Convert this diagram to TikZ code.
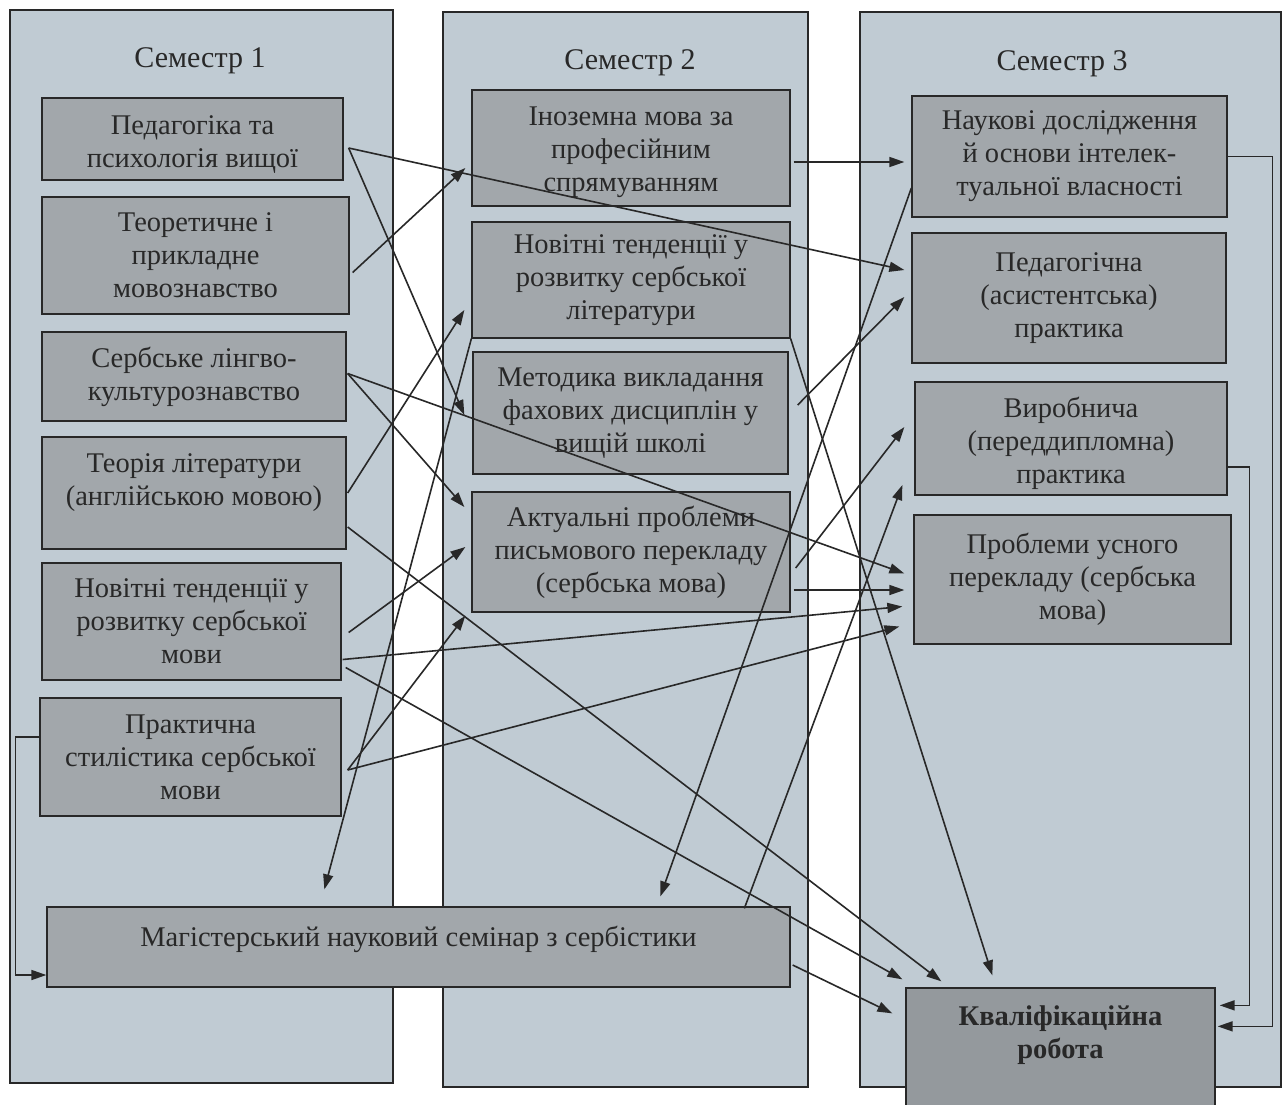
\documentclass[tikz,border=0pt]{standalone}
\usepackage{fontspec}
\setmainfont{Liberation Serif}
\usetikzlibrary{arrows.meta,calc}
\definecolor{panel}{RGB}{192,203,211}
\definecolor{boxf}{RGB}{162,167,171}
\definecolor{kf}{RGB}{148,153,157}
\definecolor{ink}{RGB}{40,40,40}
\begin{document}
\begin{tikzpicture}[x=1pt,y=-1pt,
  panelbox/.style={draw=ink,line width=1.3pt,fill=panel,inner sep=0pt},
  sz/.style 2 args={minimum width=#1,minimum height=#2},
  txt/.style={align=center,inner sep=0pt,text=ink,font=\fontsize{28.5}{33}\selectfont},
  course/.style={txt,draw=ink,line width=1.3pt,fill=boxf},
  title/.style={txt,font=\fontsize{30}{33}\selectfont},
  conn/.style={draw=ink,line width=1.6pt,-{Triangle[length=15pt,width=10pt]}},
  plain/.style={draw=ink,line width=1.6pt}
]
\fill[white] (0,0) rectangle (1284,1104);
\useasboundingbox (0,0) rectangle (1284,1104);

% semester panels
\node[panelbox,sz={383}{1073}] (col1) at (201.5,546.5) {};
\node[panelbox,sz={365}{1075}] (col2) at (625.5,549.5) {};
\node[panelbox,sz={421}{1075}] (col3) at (1070.5,549.5) {};
\node[title] (t1) at (200,61) {Семестр 1};
\node[title] (t2) at (630,63) {Семестр 2};
\node[title] (t3) at (1062,64) {Семестр 3};

% semester 1
\node[course,sz={301}{82}] (B1) at (192.5,139) {};
\node[txt] (B1t) at (192.5,145) {Педагогіка та\\психологія вищої};
\node[course,sz={307}{117}] (B2) at (195.5,255.5) {Теоретичне і\\прикладне\\мовознавство};
\node[course,sz={304}{89}] (B3) at (194,376.5) {Сербське лінгво-\\культурознавство};
\node[course,sz={304}{112}] (B4) at (194,493) {};
\node[txt] (B4t) at (194,483) {Теорія літератури\\(англійською мовою)};
\node[course,sz={299}{117}] (B5) at (191.5,621.5) {Новітні тенденції у\\розвитку сербської\\мови};
\node[course,sz={301}{118}] (B6) at (190.5,757) {Практична\\стилістика сербської\\мови};

% seminar
\node[course,sz={743}{80}] (S) at (418.5,947) {};
\node[txt] (St) at (418.5,939) {Магістерський науковий семінар з сербістики};

% semester 2
\node[course,sz={318}{116}] (C1) at (631,148) {};
\node[txt] (C1t) at (631,152) {Іноземна мова за\\професійним\\спрямуванням};
\node[course,sz={318}{116}] (C2) at (631,280) {Новітні тенденції у\\розвитку сербської\\літератури};
\node[course,sz={315}{122}] (C3) at (630.5,413) {Методика викладання\\фахових дисциплін у\\вищій школі};
\node[course,sz={318}{120}] (C4) at (631,552) {Актуальні проблеми\\письмового перекладу\\(сербська мова)};

% semester 3
\node[course,sz={315}{121}] (D1) at (1069.5,156.5) {Наукові дослідження\\й основи інтелек-\\туальної власності};
\node[course,sz={314}{130}] (D2) at (1069,298) {Педагогічна\\(асистентська)\\практика};
\node[course,sz={312}{113}] (D3) at (1071,438.5) {};
\node[txt] (D3t) at (1071,443) {Виробнича\\(переддипломна)\\практика};
\node[course,sz={317}{129}] (D4) at (1072.5,579.5) {Проблеми усного\\перекладу (сербська\\мова)};
\node[course,fill=kf,sz={309}{120}] (K) at (1060.5,1048) {};
\node[txt,font=\bfseries\fontsize{28.5}{33}\selectfont] (Kt) at (1060.5,1035) {Кваліфікаційна\\робота};

% connectors
\draw[conn] ($(B1.east)+(5,9)$) -- ($(D2.west)+(-7,-28)$);
\draw[conn] ($(B1.east)+(5,9)$) -- ($(C3.west)+(-8,2)$);
\draw[conn] ($(B2.east)+(3,17)$) -- ($(C1.west)+(-6,20)$);
\draw[conn] ($(B3.east)+(1,-3)$) -- ($(C4.west)+(-7,-45)$);
\draw[conn] ($(B3.east)+(1,-3)$) -- ($(D4.west)+(-9,-6)$);
\draw[conn] ($(B4.east)+(1,0)$) -- ($(C2.west)+(-7,30)$);
\draw[conn] ($(B4.east)+(1,34)$) -- ($(K.north west)+(36,-6)$);
\draw[conn] ($(B5.east)+(7,11)$) -- ($(C4.west)+(-6,-5)$);
\draw[conn] ($(B5.east)+(1,38)$) -- ($(D4.west)+(-11,27)$);
\draw[conn] ($(B5.east)+(4,46)$) -- ($(K.north west)+(-3,-8)$);
\draw[conn] ($(B6.east)+(6,13)$) -- ($(C4.south west)+(-6,3)$);
\draw[conn] ($(B6.east)+(6,13)$) -- ($(D4.west)+(-14,47)$);
\draw[conn] ($(B6.west)+(0,-20)$) -- ++(-24,0) |- ($(S.west)+(0,28)$);
\draw[conn] (C2.south west) -- ($(S.north west)+(278,-17)$);
\draw[conn] ($(C1.east)+(3,14)$) -- ($(D1.west)+(-7,5.5)$);
\draw[conn] ($(C3.east)+(9,-8)$) -- ($(D2.west)+(-7,-1)$);
\draw[conn] ($(C4.east)+(5,16)$) -- ($(D3.west)+(-10,-11.5)$);
\draw[conn] ($(C4.east)+(3,38)$) -- ($(D4.west)+(-9,10.5)$);
\draw[conn] (C2.south east) -- ($(K.north west)+(87,-12)$);
\draw[conn] ($(D1.west)+(0,31.5)$) -- ($(S.north west)+(614,-10)$);
\draw[conn] ($(S.north west)+(698,2)$) -- ($(D3.west)+(-12,46.5)$);
\draw[conn] ($(S.east)+(2,18)$) -- ($(K.north west)+(-13,26)$);
\draw[conn] (D1.east) -- ++(45,0) |- ($(K.north east)+(2,39)$);
\draw[conn] ($(D3.east)+(0,28.5)$) -- ++(22,0) |- ($(K.north east)+(4,18)$);
\end{tikzpicture}
\end{document}
